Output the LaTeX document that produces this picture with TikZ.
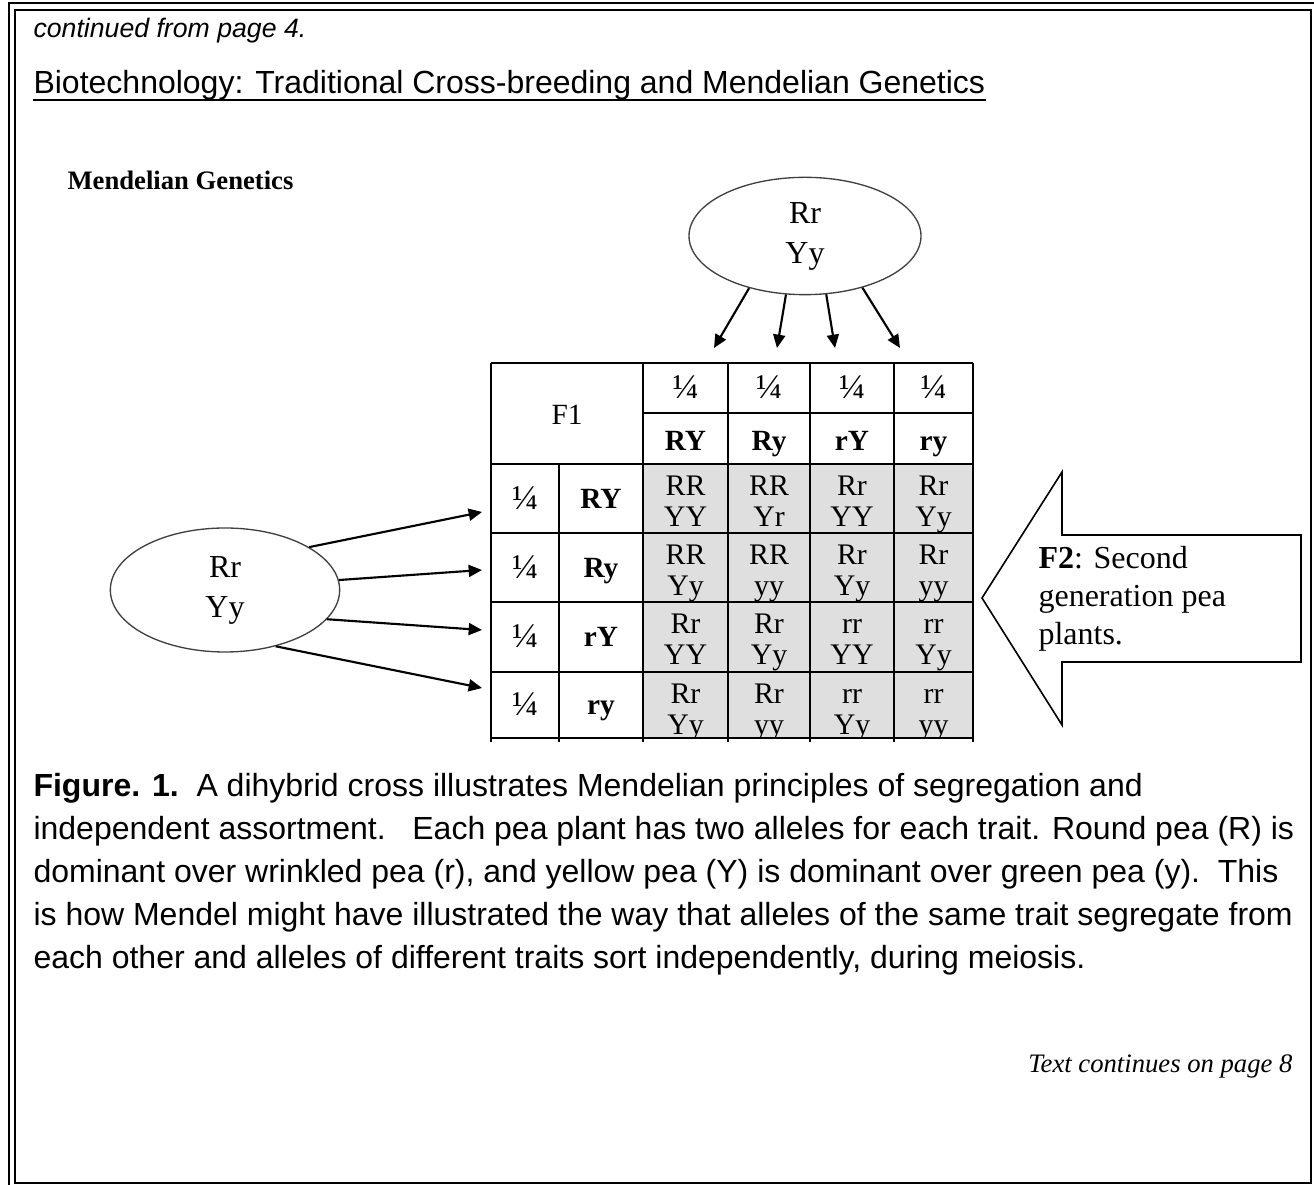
\documentclass[tikz,border=0pt]{standalone}
\usepackage{fontspec}
\setmainfont{Liberation Serif}
\newfontfamily\arial{Liberation Sans}
\usetikzlibrary{arrows.meta,shapes.geometric}

\tikzset{
  pea/.style={ellipse, draw=black!75, line width=0.5pt, inner sep=0pt,
    minimum width=87pt, minimum height=44pt, align=center,
    font=\fontsize{12}{15}\selectfont},
  gamete/.style={line width=0.8pt, -{Triangle[length=5pt,width=4.5pt]}},
  cell/.style={inner sep=0pt, align=center, font=\fontsize{11.2}{11.8}\selectfont},
  gene/.style={cell, font=\fontsize{11}{12}\selectfont\bfseries},
  quarter/.style={cell, font=\fontsize{13}{14}\selectfont},
  grid/.style={line width=0.75pt},
  body/.style={inner sep=0pt, font=\arial\fontsize{12}{16.1}\selectfont}
}

\begin{document}
\begin{tikzpicture}[x=0.375pt, y=-0.375pt]
  \useasboundingbox (0,0) rectangle (1314,1185);
  % page frame
  \draw[line width=0.75pt] (9,1185) -- (9,3) -- (1314,3);
  \draw[line width=0.75pt] (15,10) rectangle (1311,1183);

  % heading
  \node[body, anchor=base west, font=\arial\itshape\fontsize{10}{12}\selectfont] (cont) at (33,38) {continued from page 4.};
  \node[body, anchor=base west] (head) at (33,94) {Biotechnology: Traditional Cross-breeding and Mendelian Genetics};
  \draw[line width=0.75pt] ([yshift=-2.3pt]head.base west) -- ([yshift=-2.3pt]head.base east);
  \node[anchor=base west, inner sep=0pt, font=\bfseries\fontsize{10}{12}\selectfont] (mg) at (67,190) {Mendelian Genetics};

  % parents
  \node[pea] (mom) at (805,236) {Rr\\Yy};
  \node[pea, minimum width=86pt, minimum height=46.5pt] (dad) at (225,590) {Rr\\Yy};

  \foreach \a/\x [count=\i] in {223/714, 252/777, 290/835, 318/900} {
    \coordinate (t\i) at (\x,348);
    \draw[gamete] (mom.\a) -- (t\i);
  }
  \foreach \a/\y [count=\i] in {27/512, 5/570, 344/630, 312/688} {
    \coordinate (s\i) at (482,\y);
    \draw[gamete] (dad.\a) -- (s\i);
  }

  % punnett square
  \fill[gray!25] (643,464) rectangle (973,738);
  \node[cell, font=\fontsize{11}{12}\selectfont] (f1) at (567,415) {F1};
  \foreach \x/\g [count=\i] in {685.5/RY, 769/Ry, 852/rY, 933.5/ry} {
    \node[quarter, anchor=base] (q\i) at (\x,399) {¼};
    \node[gene, anchor=base] (g\i) at (\x,451) {\g};
  }
  \foreach \y/\g [count=\i] in {498.5/RY, 567.5/Ry, 637/rY, 705/ry} {
    \node[quarter, anchor=base] (p\i) at (525,\y+11) {¼};
    \node[gene, anchor=base] (h\i) at (601,\y+10) {\g};
  }
  \foreach \rt/\rb/\cells [count=\r] in {
      464/533/{RR\\YY,RR\\Yr,Rr\\YY,Rr\\Yy},
      533/602/{RR\\Yy,RR\\yy,Rr\\Yy,Rr\\yy},
      602/672/{Rr\\YY,Rr\\Yy,rr\\YY,rr\\Yy},
      672/738/{Rr\\Yy,Rr\\yy,rr\\Yy,rr\\yy}} {
    \begin{scope}
      \clip (643,\rt) rectangle (973,\rb);
      \foreach \g [count=\c] in \cells {
        \pgfmathsetmacro\cx{{685.5,769,852,933.5}[\c-1]}
        \node[cell, anchor=north] (k\r\c) at (\cx,\rt+11) {\vphantom{R}\g};
      }
    \end{scope}
  }
  \draw[grid] (491,363) -- (973,363);
  \draw[grid] (643,413) -- (973,413);
  \foreach \y in {464,533,602,672,738} \draw[grid] (491,\y) -- (973,\y);
  \foreach \x in {491,643,728,810,894,973} \draw[grid] (\x,363) -- (\x,742);
  \draw[grid] (559,464) -- (559,742);

  % F2 arrow
  \draw[line width=0.6pt, fill=white] (982,598) -- (1062,472) -- (1062,535) -- (1301,535)
    -- (1301,662) -- (1062,662) -- (1062,725) -- cycle;
  \node[anchor=north west, inner sep=0pt, align=left, font=\fontsize{12}{14.25}\selectfont] (f2) at (1038,546)
    {\textbf{F2}: Second\\generation pea\\plants.};

  % caption
  \node[body, anchor=north west, align=left] (cap) at (33,773)
    {\textbf{Figure. 1.}\ \ A dihybrid cross illustrates Mendelian principles of segregation and\\
     independent assortment.\ \ \ Each pea plant has two alleles for each trait. Round pea (R) is\\
     dominant over wrinkled pea (r), and yellow pea (Y) is dominant over green pea (y).\ \ This\\
     is how Mendel might have illustrated the way that alleles of the same trait segregate from\\
     each other and alleles of different traits sort independently, during meiosis.};
  \node[anchor=base east, inner sep=0pt, font=\itshape\fontsize{10}{12}\selectfont] (more) at (1293,1073) {Text continues on page 8};
\end{tikzpicture}
\end{document}
